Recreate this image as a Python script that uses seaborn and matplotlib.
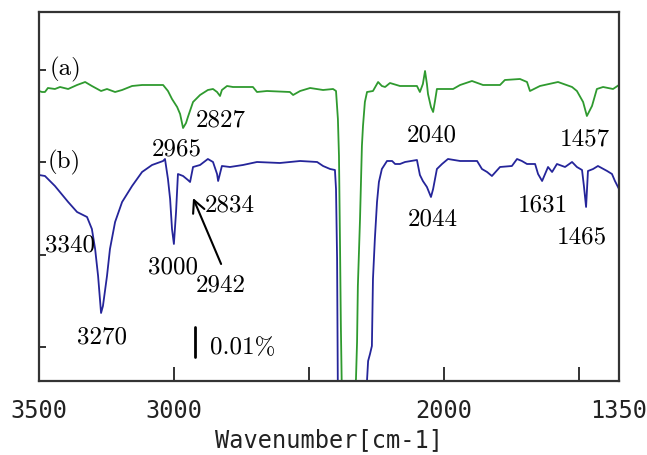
import pandas as pd
import matplotlib
matplotlib.use("Agg")
import matplotlib.pyplot as plt
import seaborn as sns

# spectrum (a): wavenumber [cm-1] and intensity (a.u., 30 a.u. = 0.01%)
wn_a = [3500, 3489, 3478, 3467, 3441, 3422, 3392, 3359, 3329, 3304, 3270, 3248,
        3218, 3192, 3155, 3118, 3089, 3040, 3022, 3007, 2988, 2977, 2966, 2955,
        2948, 2929, 2903, 2874, 2855, 2840, 2829, 2822, 2803, 2781, 2707, 2692,
        2655, 2570, 2558, 2532, 2495, 2447, 2410, 2399, 2392, 2388, 2384, 2381,
        2377, 2329, 2325, 2321, 2318, 2310, 2303, 2299, 2292, 2284, 2262, 2243,
        2229, 2217, 2199, 2162, 2099, 2088, 2077, 2069, 2062, 2058, 2047, 2039,
        2032, 2025, 1965, 1939, 1895, 1854, 1791, 1773, 1717, 1691, 1680, 1643,
        1576, 1524, 1506, 1483, 1469, 1450, 1432, 1409, 1372, 1350]
int_a = [290, 289, 289, 293, 292, 294, 292, 296, 299, 295, 290, 292,
         289, 291, 295, 296, 296, 296, 290, 282, 274, 267, 253, 258,
         264, 279, 286, 291, 292, 289, 285, 291, 295, 294, 294, 289,
         290, 289, 286, 290, 293, 291, 292, 290, 262, 225, 132, 55,
         -18, -8, 2, 39, 95, 162, 235, 255, 279, 289, 290, 299,
         295, 294, 298, 295, 295, 289, 297, 310, 297, 287, 274, 269,
         280, 292, 292, 296, 300, 296, 296, 301, 302, 299, 290, 295,
         299, 294, 290, 279, 265, 275, 292, 294, 292, 296]

# spectrum (b)
wn_b = [3500, 3478, 3441, 3392, 3359, 3322, 3304, 3292, 3281, 3270, 3263, 3248,
        3237, 3218, 3192, 3155, 3118, 3081, 3040, 3033, 3022, 3014, 3007, 3000,
        2992, 2985, 2966, 2948, 2940, 2929, 2903, 2874, 2855, 2840, 2836, 2822,
        2792, 2744, 2692, 2607, 2532, 2469, 2447, 2421, 2403, 2399, 2395, 2392,
        2288, 2280, 2273, 2266, 2262, 2255, 2247, 2240, 2229, 2210, 2191, 2180,
        2162, 2143, 2099, 2088, 2077, 2062, 2047, 2039, 2025, 2006, 1984, 1939,
        1876, 1858, 1839, 1821, 1791, 1747, 1728, 1710, 1691, 1661, 1650, 1635,
        1624, 1613, 1598, 1580, 1550, 1524, 1506, 1487, 1480, 1472, 1465, 1446,
        1428, 1394, 1376, 1365, 1350]
int_b = [206, 205, 195, 179, 169, 164, 152, 132, 105, 68, 75, 105,
         132, 159, 179, 195, 209, 216, 220, 222, 202, 182, 152, 137,
         169, 207, 205, 201, 199, 214, 216, 222, 219, 207, 200, 215,
         214, 216, 219, 218, 220, 219, 215, 212, 211, 192, 122, -18,
         -18, 20, 27, 35, 102, 142, 179, 199, 212, 220, 220, 217,
         217, 219, 221, 206, 200, 194, 184, 192, 212, 217, 222, 220,
         220, 212, 209, 205, 214, 215, 222, 220, 217, 217, 207, 200,
         207, 214, 209, 217, 214, 219, 214, 211, 195, 174, 210, 212,
         215, 210, 207, 200, 192]

# peak labels: text, wavenumber, baseline intensity
peak_labels = ["2827", "2965", "2834", "3340", "3000", "2942", "3270",
               "2040", "1457", "2044", "1631", "1465"]
peak_wn = [2918, 3081, 2885, 3478, 3096, 2918, 3359, 2136, 1569, 2132, 1724, 1580]
peak_int = [255, 226, 170, 130, 108, 90, 38, 240, 236, 156, 170, 138]

xtick_major = [3500, 3000, 2000, 1350]
xtick_minor = [2500, 1500]
ytick_pos = [34, 126, 219, 311]

green = "#2f9a2f"
navy = "#25259a"

df_a = pd.DataFrame({"wn": wn_a, "I": int_a})
df_b = pd.DataFrame({"wn": wn_b, "I": int_b})

sns.set_style("white")
fig = plt.figure(figsize=(6.47, 4.56), dpi=100)
ax = fig.add_axes([0.0603, 0.1623, 0.8964, 0.8092])

sns.lineplot(data=df_a, x="wn", y="I", ax=ax, color=green, lw=1.3,
             sort=False, estimator=None)
sns.lineplot(data=df_b, x="wn", y="I", ax=ax, color=navy, lw=1.3,
             sort=False, estimator=None)

ax.set_xlim(3500, 1350)
ax.set_ylim(0, 369)

for s in ax.spines.values():
    s.set_color("#333333")
    s.set_linewidth(1.6)

ax.set_xticks(xtick_major)
ax.set_xticks(xtick_minor, minor=True)
ax.set_xticklabels([str(t) for t in xtick_major], family="DejaVu Sans Mono",
                   fontsize=17, color="#222222")
ax.set_yticks(ytick_pos)
ax.set_yticklabels([])
ax.tick_params(axis="x", which="both", bottom=True, direction="in", length=10,
               width=1.4, color="#333333", pad=12)
ax.tick_params(axis="y", left=True, direction="in", length=5, width=1.4,
               color="#333333")
ax.set_xlabel("Wavenumber[cm-1]", family="DejaVu Sans Mono", fontsize=17,
              color="#222222", labelpad=4)
ax.set_ylabel("")

serif = dict(family="cmr10", fontsize=18, color="black", va="baseline", ha="left")
ax.text(3459, 307, "(a)", **serif)
ax.text(3467, 214, "(b)", **serif)
for lab, x, y in zip(peak_labels, peak_wn, peak_int):
    ax.text(x, y, lab, **serif)

# scale bar 0.01%
ax.plot([2922, 2922], [24, 54], color="black", lw=2)
ax.text(2866, 28, "0.01%", **serif)

ax.annotate("", xy=(2929, 183), xytext=(2825, 117),
            arrowprops=dict(arrowstyle="->", color="black", lw=1.5,
                            mutation_scale=22, shrinkA=0, shrinkB=0))

fig.savefig("out.png", dpi=100)
